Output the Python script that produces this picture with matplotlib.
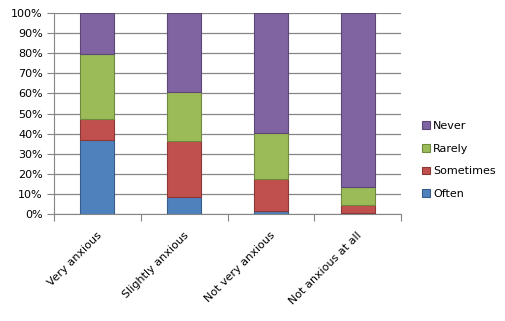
import numpy as np
import matplotlib.pyplot as plt

categories = ["Very anxious", "Slightly anxious", "Not very anxious", "Not anxious at all"]
often = [37, 8.5, 1.5, 0.5]
sometimes = [10.5, 28, 16, 4]
rarely = [32, 24, 23, 9]
never = [20.5, 39.5, 59.5, 86.5]

series = [("Often", often, "#4F81BD", "#385D8A"),
          ("Sometimes", sometimes, "#C0504D", "#8C3836"),
          ("Rarely", rarely, "#9BBB59", "#71893F"),
          ("Never", never, "#8064A2", "#5C4776")]

fig = plt.figure(figsize=(5.06, 3.21), dpi=100)
ax = fig.add_axes([54/506, 107/321, 347/506, 201/321])

x = np.arange(len(categories))
bottom = np.zeros(len(categories))
handles = []
for name, vals, col, edge in series:
    b = ax.bar(x, vals, width=0.39, bottom=bottom, color=col, edgecolor=edge,
               linewidth=0.8, label=name, zorder=3)
    handles.append(b)
    bottom += np.array(vals)

ax.set_xlim(-0.5, len(categories) - 0.5)
ax.set_ylim(0, 100)
ax.set_yticks(np.arange(0, 101, 10))
ax.set_yticklabels([f"{v}%" for v in range(0, 101, 10)], fontsize=8)
ax.yaxis.grid(True, color="#868686", linewidth=0.9, zorder=0)
ax.set_axisbelow(True)

# category ticks sit between the bars
ax.set_xticks(np.arange(-0.5, len(categories)), minor=False)
ax.set_xticklabels([])
ax.tick_params(axis="x", length=5, color="#868686", direction="out")
ax.tick_params(axis="y", length=5, color="#868686", direction="out", pad=3)
for i, c in enumerate(categories):
    ax.text(i - 0.01, -8, c, rotation=45, ha="right", va="top",
            rotation_mode="anchor", fontsize=8, transform=ax.transData)

for s in ["top", "right"]:
    ax.spines[s].set_visible(False)
for s in ["left", "bottom"]:
    ax.spines[s].set_color("#868686")

leg = fig.legend(handles[::-1], [h.get_label() for h in handles[::-1]],
                 loc="center left", bbox_to_anchor=(412/506, 1 - 160/321),
                 frameon=False, fontsize=8, handlelength=0.7, handleheight=0.7,
                 handletextpad=0.3, labelspacing=1.15)

fig.savefig("out.png", dpi=100)
